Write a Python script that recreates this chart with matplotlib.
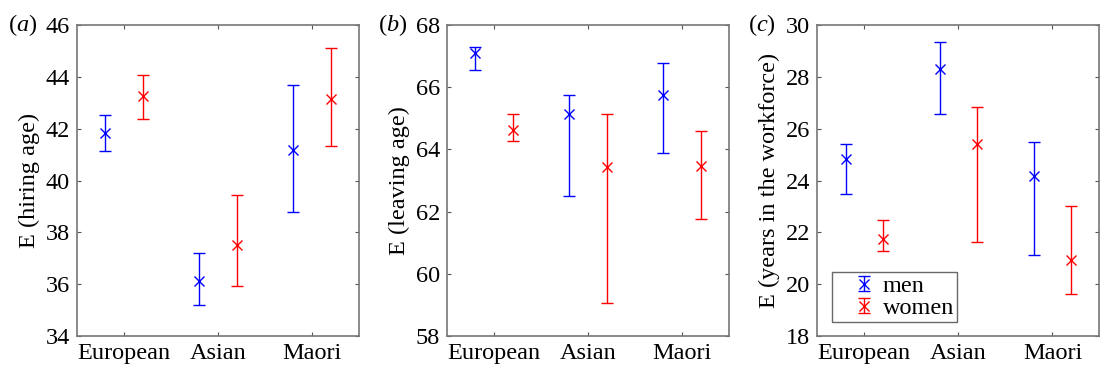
import numpy as np
import matplotlib
matplotlib.use('Agg')
import matplotlib.pyplot as plt
from matplotlib.container import ErrorbarContainer
from matplotlib.legend_handler import HandlerErrorbar

plt.rcParams['font.family'] = ['Liberation Serif', 'DejaVu Serif']
plt.rcParams['mathtext.fontset'] = 'custom'
plt.rcParams['mathtext.it'] = 'Liberation Serif:italic'
plt.rcParams['mathtext.rm'] = 'Liberation Serif'

groups = ['European', 'Asian', 'Maori']

# (a) hiring age: mean, lower end, upper end
hire_men = [41.84, 36.12, 41.17]
hire_men_lo = [41.12, 35.21, 38.79]
hire_men_hi = [42.54, 37.21, 43.67]
hire_women = [43.25, 37.53, 43.16]
hire_women_lo = [42.39, 35.95, 41.32]
hire_women_hi = [44.06, 39.46, 45.13]

# (b) leaving age
leave_men = [67.10, 65.13, 65.75]
leave_men_lo = [66.56, 62.49, 63.88]
leave_men_hi = [67.28, 65.75, 66.77]
leave_women = [64.62, 63.45, 63.48]
leave_women_lo = [64.27, 59.05, 61.77]
leave_women_hi = [65.15, 65.15, 64.59]

# (c) years in the workforce
years_men = [24.82, 28.32, 24.17]
years_men_lo = [23.47, 26.56, 21.14]
years_men_hi = [25.41, 29.35, 25.50]
years_women = [21.73, 25.41, 20.95]
years_women_lo = [21.27, 21.62, 19.62]
years_women_hi = [22.46, 26.83, 23.00]

panels = [
    ('a', 'E (hiring age)', (34, 46), np.arange(34, 47, 2),
     (hire_men, hire_men_lo, hire_men_hi), (hire_women, hire_women_lo, hire_women_hi)),
    ('b', 'E (leaving age)', (58, 68), np.arange(58, 69, 2),
     (leave_men, leave_men_lo, leave_men_hi), (leave_women, leave_women_lo, leave_women_hi)),
    ('c', 'E (years in the workforce)', (18, 30), np.arange(18, 31, 2),
     (years_men, years_men_lo, years_men_hi), (years_women, years_women_lo, years_women_hi)),
]

fig = plt.figure(figsize=(11, 3.73), dpi=100)
lefts = [0.070, 0.4065, 0.743]
fs = 17.5
x = np.arange(1, 4)

for i, (tag, ylab, ylim, yt, men, women) in enumerate(panels):
    ax = fig.add_axes([lefts[i], 0.099, 0.2565, 0.834])
    for (m, lo, hi), col, dx, lab in [(men, 'blue', -0.2, 'men'), (women, 'red', 0.2, 'women')]:
        m = np.array(m)
        err = [m - np.array(lo), np.array(hi) - m]
        ax.errorbar(x + dx, m, yerr=err, fmt='x', color=col, ecolor=col,
                    elinewidth=1.0, capsize=4.3, capthick=1.0, markersize=7,
                    markeredgewidth=1.0, label=lab)
    ax.set_xlim(0.5, 3.5)
    ax.set_ylim(*ylim)
    ax.set_xticks(x)
    ax.set_xticklabels(groups)
    ax.set_yticks(yt)
    ax.tick_params(direction='in', top=True, right=True, length=3, width=0.8,
                   color='#555555', labelsize=fs, pad=5)
    for s in ax.spines.values():
        s.set_color('#777777')
        s.set_linewidth(1.2)
    ax.set_ylabel(ylab, fontsize=fs, labelpad=4)
    # panel tag, italic letter
    ax.text(-0.245, 1.0, '($\\mathit{' + tag + '}$)', transform=ax.transAxes,
            fontsize=fs, va='center', ha='left')
    if i == 2:
        leg = ax.legend(loc='lower left', bbox_to_anchor=(0.053, 0.045), fontsize=fs,
                        frameon=True, fancybox=False, handlelength=2.4,
                        handletextpad=-0.45, borderpad=0.12, labelspacing=0.0,
                        borderaxespad=0.0,
                        handler_map={ErrorbarContainer: HandlerErrorbar(xerr_size=0.25, yerr_size=0.32)})
        leg.get_frame().set_edgecolor('#444444')
        leg.get_frame().set_linewidth(1.0)

fig.savefig('out.png', dpi=100)
